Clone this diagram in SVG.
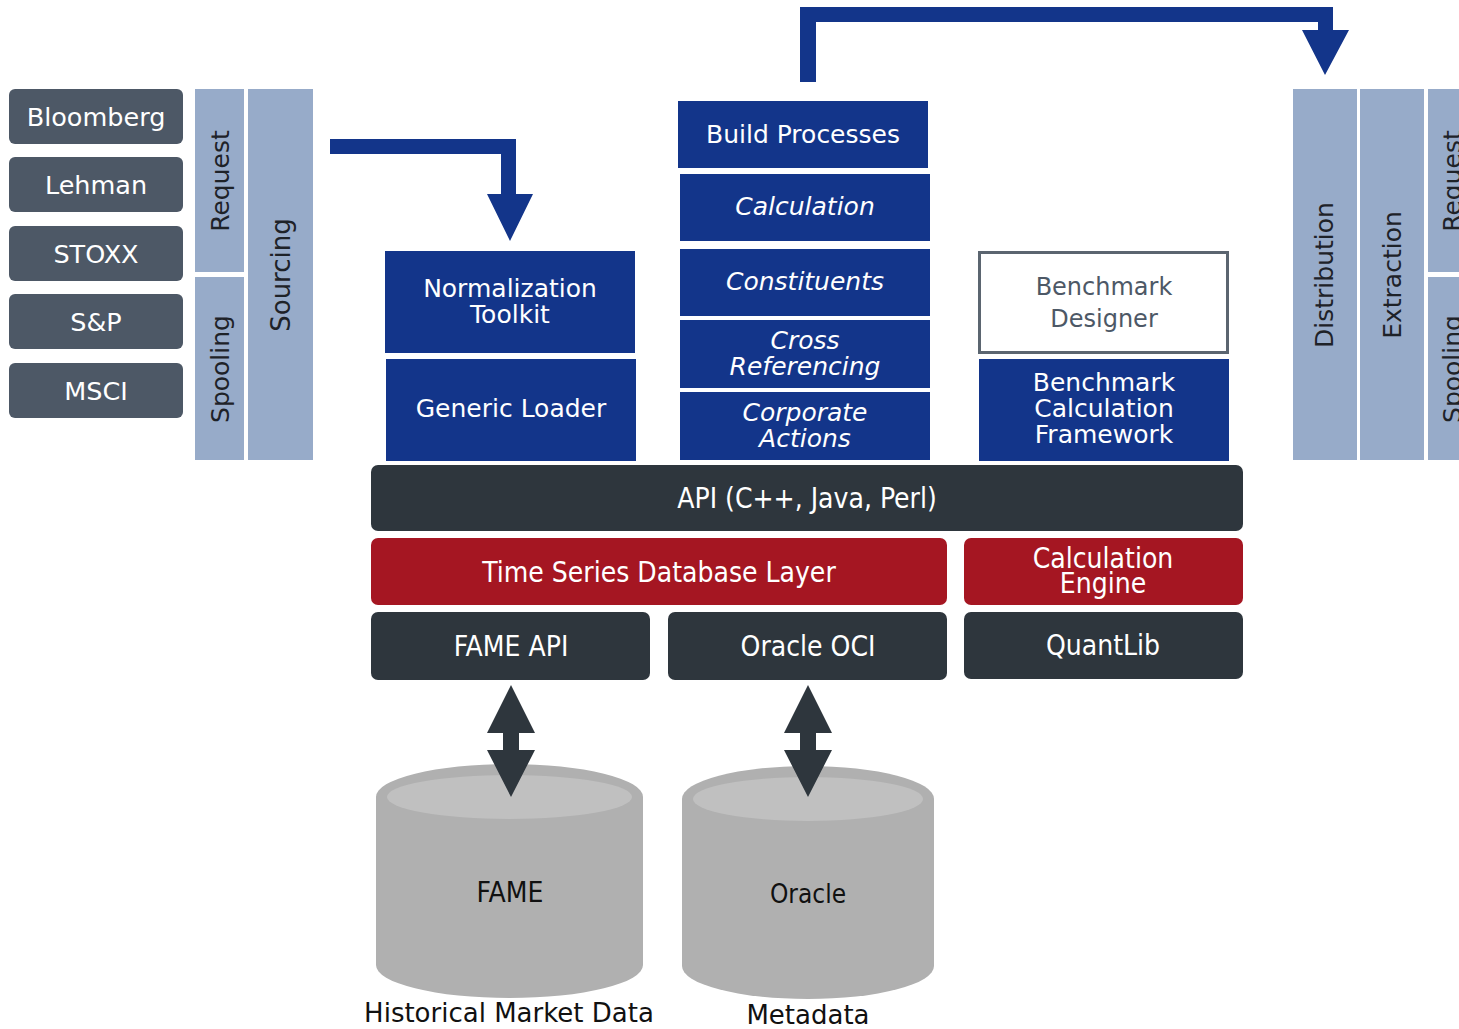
<svg xmlns="http://www.w3.org/2000/svg" width="1459" height="1029" viewBox="0 0 1459 1029">
<style>
text{font-family:"DejaVu Sans","Liberation Sans",sans-serif;text-anchor:middle;dominant-baseline:central}
.src rect{fill:#4d5866}
.src text{fill:#fff;font-size:25.5px}
.lb rect{fill:#97abc9}
.lb text{fill:#1e2228;font-size:25px}
.bl rect{fill:#13358a}
.bl text{fill:#fff;font-size:25px}
.it text{font-style:italic}
.dk rect{fill:#2e363d}
.rd rect{fill:#a51622}
.dk text,.rd text{fill:#fff;font-size:28px;font-family:"DejaVu Sans Condensed","DejaVu Sans",sans-serif;font-stretch:condensed}
.db text{fill:#111;font-size:26px;font-family:"DejaVu Sans Condensed","DejaVu Sans",sans-serif;font-stretch:condensed}
.cap{fill:#111;font-size:26px}
.arr{fill:#13358a}
.darr{fill:#2e363d}
</style>
<rect width="1459" height="1029" fill="#fff"/>

<g id="bloomberg" class="src"><rect x="9" y="89" width="174" height="55" rx="6"/><text x="96" y="117">Bloomberg</text></g>
<g id="lehman" class="src"><rect x="9" y="157" width="174" height="55" rx="6"/><text x="96" y="185">Lehman</text></g>
<g id="stoxx" class="src"><rect x="9" y="226" width="174" height="55" rx="6"/><text x="96" y="254">STOXX</text></g>
<g id="sp" class="src"><rect x="9" y="294" width="174" height="55" rx="6"/><text x="96" y="322">S&amp;P</text></g>
<g id="msci" class="src"><rect x="9" y="363" width="174" height="55" rx="6"/><text x="96" y="391">MSCI</text></g>

<g id="request-left" class="lb"><rect x="195" y="89" width="49" height="183"/><text transform="rotate(-90 220 181)" x="220" y="181">Request</text></g>
<g id="spooling-left" class="lb"><rect x="195" y="277" width="49" height="183"/><text transform="rotate(-90 220 369)" x="220" y="369">Spooling</text></g>
<g id="sourcing" class="lb"><rect x="248" y="89" width="65" height="371"/><text transform="rotate(-90 281 275)" x="281" y="275" style="font-size:26px">Sourcing</text></g>

<g id="distribution" class="lb"><rect x="1293" y="89" width="64" height="371"/><text transform="rotate(-90 1324 275)" x="1324" y="275">Distribution</text></g>
<g id="extraction" class="lb"><rect x="1360" y="89" width="64" height="371"/><text transform="rotate(-90 1392 275)" x="1392" y="275">Extraction</text></g>
<g id="request-right" class="lb"><rect x="1428" y="89" width="50" height="183"/><text transform="rotate(-90 1452 181)" x="1452" y="181">Request</text></g>
<g id="spooling-right" class="lb"><rect x="1428" y="277" width="50" height="183"/><text transform="rotate(-90 1452 369)" x="1452" y="369">Spooling</text></g>

<g id="normalization" class="bl"><rect x="385" y="251" width="250" height="102"/><text x="510" y="288">Normalization</text><text x="510" y="314">Toolkit</text></g>
<g id="generic-loader" class="bl"><rect x="386" y="359" width="250" height="102"/><text x="511" y="408">Generic Loader</text></g>

<g id="build" class="bl"><rect x="678" y="101" width="250" height="67"/><text x="803" y="134">Build Processes</text></g>
<g id="calculation" class="bl it"><rect x="680" y="174" width="250" height="67"/><text x="805" y="206">Calculation</text></g>
<g id="constituents" class="bl it"><rect x="680" y="249" width="250" height="67"/><text x="805" y="281">Constituents</text></g>
<g id="crossref" class="bl it"><rect x="680" y="320" width="250" height="68"/><text x="805" y="340">Cross</text><text x="805" y="366">Referencing</text></g>
<g id="corporate" class="bl it"><rect x="680" y="392" width="250" height="68"/><text x="805" y="412">Corporate</text><text x="805" y="438">Actions</text></g>

<g id="designer"><rect x="979.5" y="252.5" width="248" height="100" fill="#fff" stroke="#5b6570" stroke-width="3"/><text x="1104" y="287" fill="#4d5866" style="font-size:24px">Benchmark</text><text x="1104" y="319" fill="#4d5866" style="font-size:24px">Designer</text></g>
<g id="bcf" class="bl"><rect x="979" y="359" width="250" height="102"/><text x="1104" y="382">Benchmark</text><text x="1104" y="408">Calculation</text><text x="1104" y="434">Framework</text></g>

<g id="api" class="dk"><rect x="371" y="465" width="872" height="66" rx="7"/><text x="807" y="498">API (C++, Java, Perl)</text></g>
<g id="tsdb" class="rd"><rect x="371" y="538" width="576" height="67" rx="7"/><text x="659" y="572">Time Series Database Layer</text></g>
<g id="calc-engine" class="rd"><rect x="964" y="538" width="279" height="67" rx="7"/><text x="1103" y="558">Calculation</text><text x="1103" y="583">Engine</text></g>
<g id="fame-api" class="dk"><rect x="371" y="612" width="279" height="68" rx="7"/><text x="511" y="646">FAME API</text></g>
<g id="oracle-oci" class="dk"><rect x="668" y="612" width="279" height="68" rx="7"/><text x="808" y="646">Oracle OCI</text></g>
<g id="quantlib" class="dk"><rect x="964" y="612" width="279" height="67" rx="7"/><text x="1103" y="645">QuantLib</text></g>

<g id="fame-db" class="db">
<path d="M376,797 A133.5,33 0 0 1 643,797 L643,965 A133.5,33 0 0 1 376,965 Z" fill="#b0b0b0"/>
<ellipse cx="509.5" cy="797" rx="122.5" ry="22" fill="#c0c0c0"/>
<text x="510" y="892" style="font-size:28px">FAME</text>
</g>
<g id="oracle-db" class="db">
<path d="M682,799 A126,33 0 0 1 934,799 L934,966 A126,33 0 0 1 682,966 Z" fill="#b0b0b0"/>
<ellipse cx="808" cy="799" rx="115" ry="22" fill="#c0c0c0"/>
<text x="808" y="894">Oracle</text>
</g>
<text class="cap" x="509" y="1013">Historical Market Data</text>
<text class="cap" x="808" y="1015">Metadata</text>

<g id="connectors">
<path class="arr" d="M330,139 H516 V194 H533 L510,241 L487,194 H501 V154 H330 Z"/>
<path class="arr" d="M800,82 V7 H1333 V30 H1349 L1325,75 L1302,30 H1318 V22 H816 V82 Z"/>
<path class="darr" d="M511,685 L535,733 H519 V750 H535 L511,797 L487,750 H503 V733 H487 Z"/>
<path class="darr" d="M808,685 L832,733 H816 V750 H832 L808,797 L784,750 H800 V733 H784 Z"/>
</g>
</svg>
